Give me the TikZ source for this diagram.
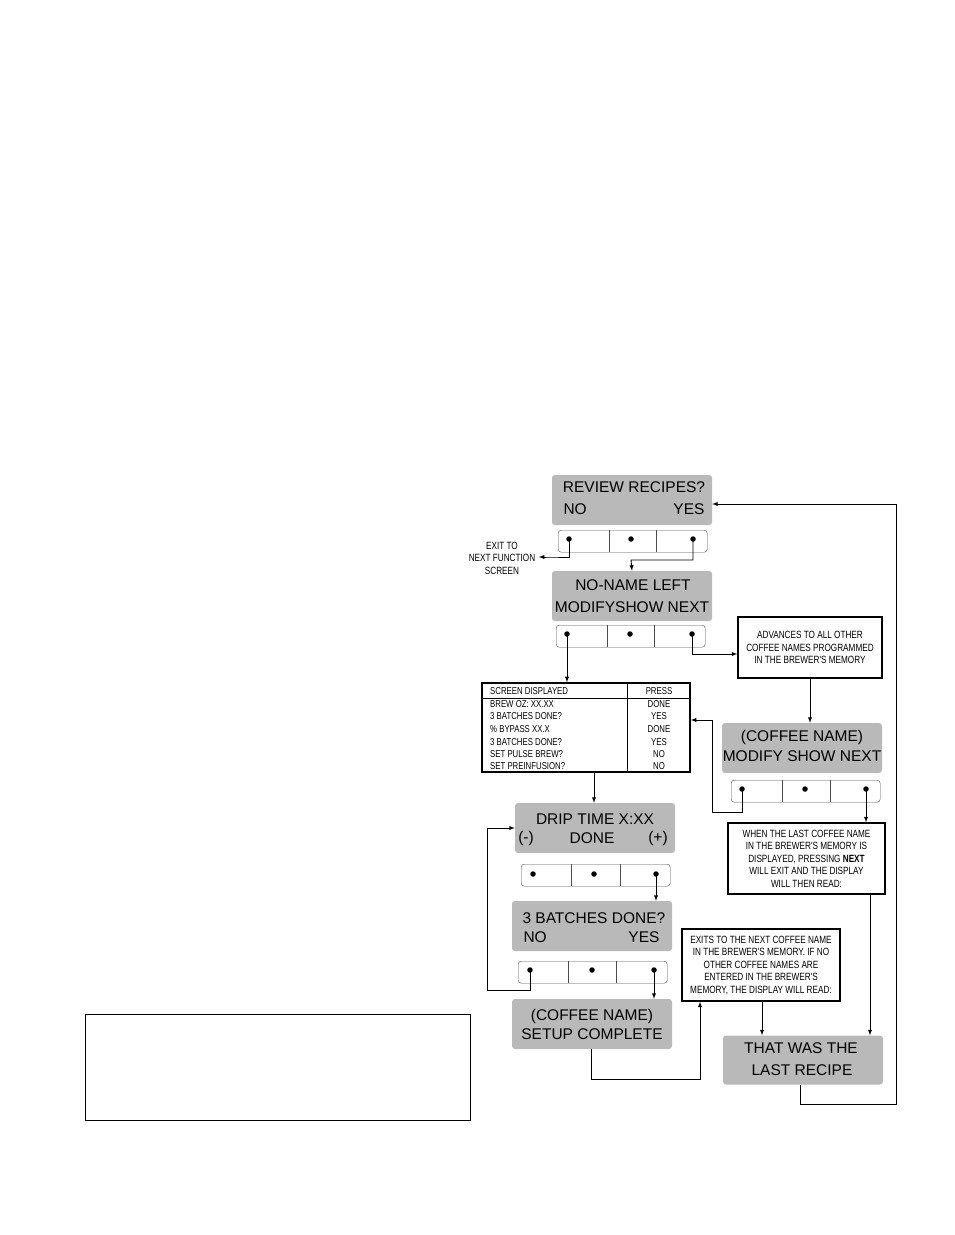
\documentclass[tikz,border=0pt]{standalone}
\usepackage{fontspec}
\setmainfont{Liberation Sans}
\newfontfamily\narrowfont[FakeStretch=0.78]{Liberation Sans}
\usetikzlibrary{positioning}
\tikzset{
    screen/.style={
        rectangle,
        rounded corners=3pt,
        fill=gray!55,
        minimum width=160pt,
        minimum height=50pt,
        inner sep=0pt
    },
    keypad/.style={
        rectangle,
        rounded corners=3pt,
        draw=black!70,
        minimum width=149pt,
        minimum height=22pt,
        inner sep=0pt
    },
    note/.style={
        rectangle,
        draw=black,
        line width=1.4pt,
        align=center,
        inner sep=0pt,
        font=\narrowfont\fontsize{10.5}{12.5}\selectfont
    },
    flow/.style={draw, line width=0.9pt, ->, >=latex},
    dot/.style={circle, fill=black, inner sep=0pt, minimum size=5.5pt}
}
% keypad with three keys: name, left x, top y, divider offsets
\newcommand{\keys}[5]{
    \node[keypad, anchor=north west] (#1) at (#2,#3) {};
    \draw[black!70] (#2+#4,#3) -- (#2+#4,#3+22) (#2+#5,#3) -- (#2+#5,#3+22);
}
\newcommand{\bigtext}{\fontsize{15.5}{18}\selectfont}
\begin{document}
\begin{tikzpicture}[x=1pt,y=-1pt]
    \useasboundingbox (0,0) rectangle (954,1235);

    % screens
    \node[screen] (review) at (632,500) {};
    \node[font=\bigtext] at (634,487) {REVIEW RECIPES?};
    \node[font=\bigtext, anchor=west] at (560,509) {NO};
    \node[font=\bigtext, anchor=east] at (708,509) {YES};

    \node[screen] (noname) at (632,596) {};
    \node[font=\bigtext] at (633,585) {NO-NAME LEFT};
    \node[font=\bigtext] at (632,607) {MODIFYSHOW NEXT};

    \node[screen] (coffee) at (802,748) {};
    \node[font=\bigtext] at (802,737) {(COFFEE NAME)};
    \node[font=\bigtext] at (802,756) {MODIFY SHOW NEXT};

    \node[screen] (drip) at (595,828) {};
    \node[font=\bigtext] at (595,819) {DRIP TIME X:XX};
    \node[font=\bigtext] at (526,838) {(-)};
    \node[font=\bigtext] at (592,838) {DONE};
    \node[font=\bigtext] at (658,838) {(+)};

    \node[screen] (batches) at (592,926) {};
    \node[font=\bigtext, anchor=west] at (519,918) {3 BATCHES DONE?};
    \node[font=\bigtext, anchor=west] at (520,937) {NO};
    \node[font=\bigtext, anchor=east] at (663,937) {YES};

    \node[screen] (setup) at (592,1024) {};
    \node[font=\bigtext] at (592,1016) {(COFFEE NAME)};
    \node[font=\bigtext] at (592,1034) {SETUP COMPLETE};

    \node[screen, minimum height=49pt] (last) at (803,1060) {};
    \node[font=\bigtext] at (801,1048) {THAT WAS THE};
    \node[font=\bigtext] at (802,1070) {LAST RECIPE};

    % keypads
    \keys{padA}{558}{530}{51}{98}
    \node[dot] (padAl) at (569,539) {};
    \node[dot] (padAm) at (631,539) {};
    \node[dot] (padAr) at (693,539) {};
    \keys{padB}{556}{625}{51}{98}
    \node[dot] (padBl) at (567,634) {};
    \node[dot] (padBm) at (630,634) {};
    \node[dot] (padBr) at (692,634) {};
    \keys{padC}{731}{780}{51}{99}
    \node[dot] (padCl) at (742,789) {};
    \node[dot] (padCm) at (805,789) {};
    \node[dot] (padCr) at (866,789) {};
    \keys{padD}{521}{864}{50}{99}
    \node[dot] (padDl) at (533,874) {};
    \node[dot] (padDm) at (594,874) {};
    \node[dot] (padDr) at (656,874) {};
    \keys{padE}{518}{961}{50}{98}
    \node[dot] (padEl) at (530,970) {};
    \node[dot] (padEm) at (592,970) {};
    \node[dot] (padEr) at (654,970) {};

    % notes
    \node[align=center, font=\narrowfont\fontsize{10.5}{12.5}\selectfont] (exit) at (502,558)
        {EXIT TO\\NEXT FUNCTION\\SCREEN};
    \node[note, minimum width=144pt, minimum height=61pt] (advance) at (810,647.5)
        {ADVANCES TO ALL OTHER\\COFFEE NAMES PROGRAMMED\\IN THE BREWER'S MEMORY};
    \node[note, minimum width=157pt, minimum height=71pt] (whenlast) at (806.5,858.5)
        {WHEN THE LAST COFFEE NAME\\IN THE BREWER'S MEMORY IS\\DISPLAYED, PRESSING \textbf{NEXT}\\WILL EXIT AND THE DISPLAY\\WILL THEN READ:};
    \node[note, minimum width=158pt, minimum height=72pt] (exits) at (761,965)
        {EXITS TO THE NEXT COFFEE NAME\\IN THE BREWER'S MEMORY. IF NO\\OTHER COFFEE NAMES ARE\\ENTERED IN THE BREWER'S\\MEMORY, THE DISPLAY WILL READ:};
    \node[draw, line width=0.8pt, minimum width=385pt, minimum height=106pt] (blank) at (277.5,1067) {};

    % table of screens
    \node[draw, line width=1.6pt, minimum width=208pt, minimum height=89pt, inner sep=0pt] (steps) at (586,727.5) {};
    \draw[line width=1pt] (482,698) -- (690,698);
    \draw[line width=1pt] (627,683) -- (627,772);
    \foreach \y/\scr/\key in {691/SCREEN DISPLAYED/PRESS, 704/BREW OZ: XX.XX/DONE,
        716/3 BATCHES DONE?/YES, 729/\% BYPASS XX.X/DONE, 742/3 BATCHES DONE?/YES,
        754/SET PULSE BREW?/NO, 766/SET PREINFUSION?/NO}
    {
        \node[anchor=west, inner sep=0pt, font=\narrowfont\fontsize{10}{10}\selectfont] at (490,\y) {\scr};
        \node[inner sep=0pt, font=\narrowfont\fontsize{10}{10}\selectfont] at (659,\y) {\key};
    }

    % connectors
    \path[flow] (padAl.center) |- (548,557) -- (exit.east |- 557,557);
    \path[flow] (padAr.center) |- (631,560) -- (noname.north);
    \path[flow] (padBl.center) -- (steps.north -| padBl);
    \path[flow] (padBr.center) |- (advance.west |- 654,654);
    \path[flow] (advance.south) -- (coffee.north -| advance.south);
    \path[flow] (padCl.center) |- (712,812) |- (steps.east |- 720,720);
    \path[flow] (padCr.center) -- (whenlast.north -| padCr);
    \path[flow] (870,894) -- (last.north -| 870,0);
    \path[flow] (steps.south -| 594,0) -- (drip.north -| 594,0);
    \path[flow] (padDr.center) -- (batches.north -| padDr);
    \path[flow] (padEl.center) |- (487,990) |- (drip.west |- 828,828);
    \path[flow] (padEr.center) -- (setup.north -| padEr);
    \path[flow] (setup.south -| 591,0) |- (700,1079) -- (exits.south -| 700,0);
    \path[flow] (exits.south -| 762,0) -- (last.north -| 762,0);
    \path[flow] (last.south -| 800,0) |- (896,1104) |- (review.east |- 504,504);
\end{tikzpicture}
\end{document}
